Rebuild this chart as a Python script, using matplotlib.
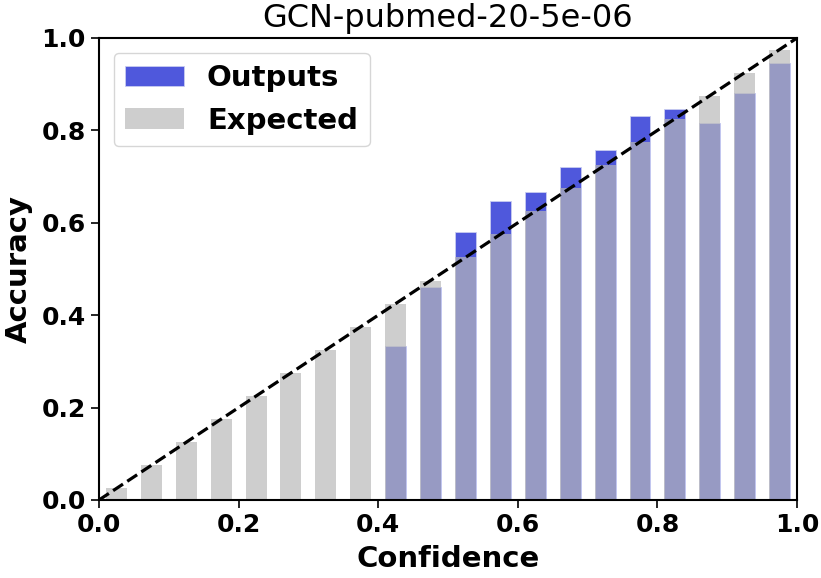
import numpy as np
import matplotlib
matplotlib.use("Agg")
import matplotlib.pyplot as plt

# 20 confidence bins
bin_centers = [0.025, 0.075, 0.125, 0.175, 0.225, 0.275, 0.325, 0.375, 0.425, 0.475,
               0.525, 0.575, 0.625, 0.675, 0.725, 0.775, 0.825, 0.875, 0.925, 0.975]
outputs = [0.0, 0.0, 0.0, 0.0, 0.0, 0.0, 0.0, 0.0, 0.333, 0.461,
           0.581, 0.647, 0.666, 0.720, 0.757, 0.831, 0.846, 0.816, 0.881, 0.946]
expected = bin_centers

plt.rcParams['font.family'] = 'DejaVu Sans'
fig, ax = plt.subplots(figsize=(8.21, 5.78), dpi=100)
fig.subplots_adjust(left=0.1206, right=0.9708, top=0.9343, bottom=0.135)

ax.bar(bin_centers, outputs, width=0.03, color='#4f58dc', label='Outputs',
       edgecolor='#c8ccf0', linewidth=0.6)
ax.bar(bin_centers, expected, width=0.03, color=(0.72, 0.72, 0.72), alpha=0.69,
       label='Expected', linewidth=0)
ax.plot([0, 1], [0, 1], '--', color='black', linewidth=2.3)

ax.set_xlim(0, 1)
ax.set_ylim(0, 1)
ax.set_title('GCN-pubmed-20-5e-06', fontsize=23, pad=8)
ax.set_xlabel('Confidence', fontsize=21, fontweight='bold', labelpad=6)
ax.set_ylabel('Accuracy', fontsize=21, fontweight='bold', labelpad=6)
ax.tick_params(labelsize=18, width=1.2, length=6)
for lab in ax.get_xticklabels() + ax.get_yticklabels():
    lab.set_fontweight('bold')
for s in ax.spines.values():
    s.set_linewidth(1.5)
ax.legend(loc='upper left', prop={'size': 21, 'weight': 'bold'})

fig.savefig('out.png', dpi=100)
